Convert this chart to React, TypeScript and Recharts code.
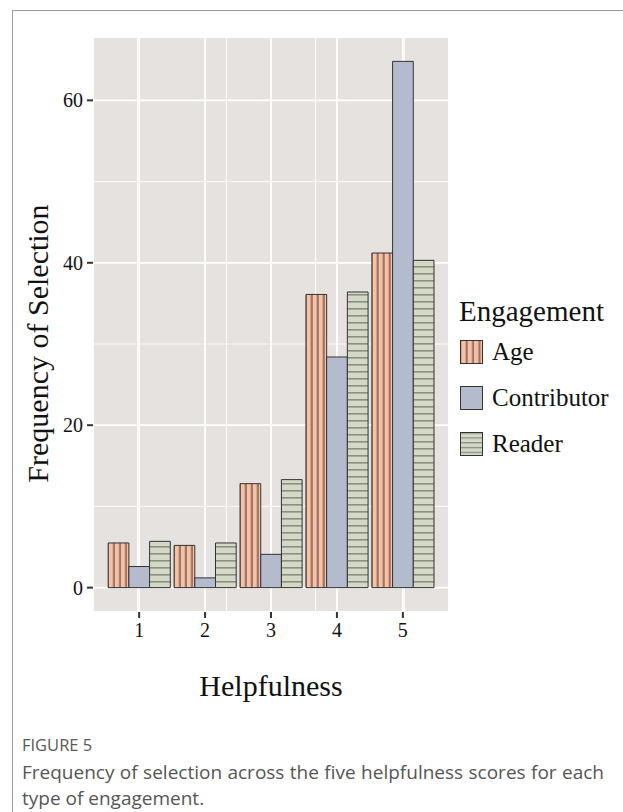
import React from 'react';
import { BarChart, Bar, XAxis, YAxis, CartesianGrid, Legend } from 'recharts';

// Helpfulness score (x) and frequency for each engagement type
const scores = [1, 2, 3, 4, 5];
const age = [5.5, 5.2, 12.8, 36.1, 41.2];
const contributor = [2.6, 1.2, 4.1, 28.4, 64.8];
const reader = [5.7, 5.5, 13.3, 36.4, 40.3];

const yTicks = [0, 20, 40, 60];
const yMinorTicks = [10, 30, 50];
const xMinorTicks = [0.5, 1.5, 2.5, 3.5, 4.5, 5.5];
const xDomain = [0.3, 5.7];
const yDomain = [-3, 67.8];

const seriesNames = ['Age', 'Contributor', 'Reader'];
const seriesFill: Record<string, string> = {
  Age: 'url(#agePat)',
  Contributor: '#B3BBCC',
  Reader: 'url(#readerPat)',
};
const legendFill: Record<string, string> = {
  Age: 'url(#agePat)',
  Contributor: '#B3BBCC',
  Reader: 'url(#readerKeyPat)',
};

const data = scores.map((s, i) => ({
  score: s,
  Age: age[i],
  Contributor: contributor[i],
  Reader: reader[i],
}));

const SERIF = '"Liberation Serif", "Times New Roman", serif';
const SANS = '"Open Sans", "Noto Sans", sans-serif';

const renderLegend = () => (
  <div style={{ fontFamily: SERIF, color: '#111' }}>
    <div style={{ fontSize: 29, lineHeight: '36px' }}>Engagement</div>
    {seriesNames.map((name) => (
      <div key={name} style={{ display: 'flex', alignItems: 'center', height: 46 }}>
        <svg width={24} height={25} style={{ marginLeft: 1 }}>
          <rect x={0.5} y={0.5} width={22} height={23} fill={legendFill[name]} stroke="#333" strokeWidth={1} />
        </svg>
        <span style={{ fontSize: 25, marginLeft: 8, lineHeight: '30px' }}>{name}</span>
      </div>
    ))}
  </div>
);

const renderYTitle = (props: any) => {
  const vb = props.viewBox || {};
  const x = vb.x + 15;
  const y = vb.y + vb.height / 2 + 19;
  return (
    <text x={x} y={y} transform={`rotate(-90 ${x} ${y})`} textAnchor="middle"
      fontFamily={SERIF} fontSize={30} fill="#111">
      Frequency of Selection
    </text>
  );
};

const renderXTitle = (props: any) => {
  const vb = props.viewBox || {};
  return (
    <text x={vb.x + vb.width / 2} y={vb.y + 84} textAnchor="middle"
      fontFamily={SERIF} fontSize={30} fill="#111">
      Helpfulness
    </text>
  );
};

export default function App() {
  return (
    <div style={{ position: 'relative', width: 623, height: 812, background: '#fff', overflow: 'hidden' }}>
      <style>{'body{margin:0}'}</style>
      {/* article frame */}
      <div style={{ position: 'absolute', left: 12, top: 10, right: 0, bottom: 0, borderTop: '1px solid #9a9a9a', borderLeft: '1px solid #9a9a9a' }} />
      <div style={{ position: 'absolute', left: 0, top: 0 }}>
        <BarChart width={623} height={720} data={data}
          margin={{ top: 37, right: 174, bottom: 48, left: 33 }}
          barGap={0} barSize={20.7}>
          <defs>
            <pattern id="agePat" patternUnits="objectBoundingBox" patternContentUnits="objectBoundingBox"
              x={0.04} y={0} width={0.29} height={1}>
              <rect x={0} y={0} width={0.29} height={1} fill="#F6C2A5" />
              <rect x={0.19} y={0} width={0.1} height={1} fill="#9E7367" />
            </pattern>
            <pattern id="readerPat" patternUnits="userSpaceOnUse" x={0} y={0} width={10} height={7}>
              <rect x={0} y={0} width={10} height={7} fill="#D4D9C5" />
              <rect x={0} y={0} width={10} height={1.6} fill="#8A9183" />
            </pattern>
            <pattern id="readerKeyPat" patternUnits="userSpaceOnUse" x={0} y={0.5} width={10} height={4.8}>
              <rect x={0} y={0} width={10} height={4.8} fill="#D4D9C5" />
              <rect x={0} y={0} width={10} height={1.3} fill="#8A9183" />
            </pattern>
          </defs>
          <CartesianGrid xAxisId="minor" yAxisId="minor" fill="#E6E2DF" stroke="#FFFFFF" strokeWidth={0.9} />
          <CartesianGrid stroke="#FFFFFF" strokeWidth={1.8} />
          <XAxis xAxisId="minor" type="number" domain={xDomain} ticks={xMinorTicks} allowDataOverflow hide />
          <YAxis yAxisId="minor" type="number" domain={yDomain} ticks={yMinorTicks} allowDataOverflow hide />
          <XAxis dataKey="score" type="number" domain={xDomain} ticks={scores} allowDataOverflow
            height={60} axisLine={false} tickSize={6} tickMargin={5}
            tickLine={{ stroke: '#333', strokeWidth: 2 }}
            tick={{ fontSize: 20, fill: '#111', fontFamily: SERIF }}
            label={renderXTitle} />
          <YAxis type="number" domain={yDomain} ticks={yTicks} allowDataOverflow
            width={60} axisLine={false} tickSize={6} tickMargin={4}
            tickLine={{ stroke: '#333', strokeWidth: 2 }}
            tick={{ fontSize: 20, fill: '#111', fontFamily: SERIF }}
            label={renderYTitle} />
          {seriesNames.map((name) => (
            <Bar key={name} dataKey={name} fill={seriesFill[name]} stroke="#333" strokeWidth={1}
              isAnimationActive={false} />
          ))}
          <Legend layout="horizontal" align="center" verticalAlign="middle" content={renderLegend}
            wrapperStyle={{ left: 459, top: 293, width: 164 }} />
        </BarChart>
      </div>
      <div style={{ position: 'absolute', left: 22, top: 735, fontFamily: SANS, fontSize: 16.5, lineHeight: '20px', color: '#5a5a5a' }}>
        FIGURE 5
      </div>
      <div style={{ position: 'absolute', left: 22, top: 759, width: 582, fontFamily: SANS, fontSize: 19, lineHeight: '26px', color: '#555', textAlign: 'justify' }}>
        Frequency of selection across the five helpfulness scores for each type of engagement.
      </div>
    </div>
  );
}
